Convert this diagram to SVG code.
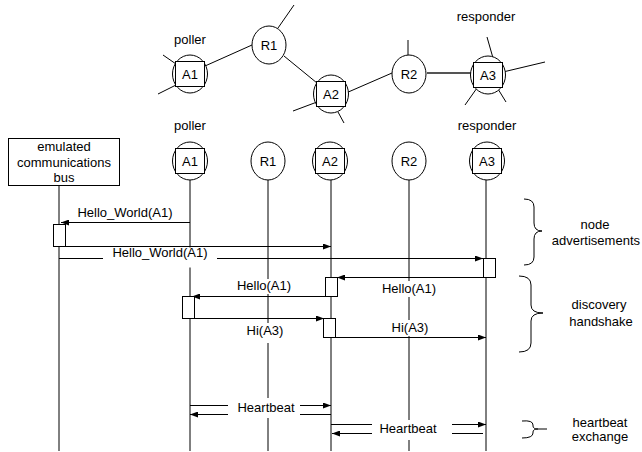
<svg xmlns="http://www.w3.org/2000/svg" width="642" height="452" viewBox="0 0 642 452">
<defs>
<marker id="ah" viewBox="0 0 8 6" refX="8" refY="3" markerWidth="8" markerHeight="6" markerUnits="userSpaceOnUse" orient="auto">
<path d="M0,0 L8,3 L0,6 Z" fill="#000"/>
</marker>
<style>
text{font-family:"Liberation Sans",Arial,sans-serif;font-size:13px;fill:#000;text-anchor:middle}
.n{fill:#fff;stroke:#000;stroke-width:1}
.l{stroke:#000;stroke-width:1;fill:none}
.a{stroke:#000;stroke-width:1;fill:none;marker-end:url(#ah)}
.bg{fill:#fff;stroke:none}
.act{fill:#fff;stroke:#000;stroke-width:1}
</style>
</defs>
<rect width="642" height="452" fill="#fff"/>

<!-- top network links -->
<g id="net-links">
<line class="l" x1="163" y1="55" x2="176" y2="64"/>
<line class="l" x1="158" y1="94" x2="176" y2="85"/>
<line class="l" x1="205" y1="66" x2="252" y2="45"/>
<line class="l" x1="278" y1="28" x2="294" y2="5"/>
<line class="l" x1="284" y1="56" x2="317" y2="83"/>
<line class="l" x1="293" y1="111" x2="317" y2="102"/>
<line class="l" x1="338" y1="112" x2="344" y2="123"/>
<line class="l" x1="346" y1="93" x2="392" y2="73"/>
<line class="l" x1="408" y1="40" x2="408" y2="55"/>
<line x1="427" y1="73" x2="472" y2="73" stroke="#555" stroke-width="2"/>
<line class="l" x1="487" y1="37" x2="493" y2="58"/>
<line class="l" x1="503" y1="72" x2="545" y2="62"/>
<line class="l" x1="465" y1="105" x2="477" y2="88"/>
<line class="l" x1="498" y1="89" x2="506" y2="102"/>
</g>

<g id="top-A1">
<ellipse class="n" cx="190" cy="74" rx="17.5" ry="19"/>
<rect class="n" x="175.5" y="61.5" width="29" height="25"/>
<text x="190" y="79">A1</text>
<text x="190" y="44">poller</text>
</g>
<g id="top-R1">
<ellipse class="n" cx="269" cy="45" rx="17" ry="19"/>
<text x="269" y="50">R1</text>
</g>
<g id="top-A2">
<ellipse class="n" cx="331" cy="94" rx="17.5" ry="19"/>
<rect class="n" x="316.5" y="81.5" width="29" height="25"/>
<text x="331" y="99">A2</text>
</g>
<g id="top-R2">
<ellipse class="n" cx="409" cy="74" rx="17" ry="19"/>
<text x="409" y="79">R2</text>
</g>
<g id="top-A3">
<ellipse class="n" cx="488" cy="75" rx="17.5" ry="19"/>
<rect class="n" x="473.5" y="62.5" width="29" height="25"/>
<text x="488" y="80">A3</text>
<text x="486" y="21">responder</text>
</g>

<!-- sequence connectors -->
<g id="connectors">
<line class="l" x1="59" y1="185" x2="59" y2="451"/>
<line class="l" x1="190" y1="180" x2="190" y2="451"/>
<line class="l" x1="268" y1="180" x2="268" y2="451"/>
<line class="l" x1="331" y1="180" x2="331" y2="451"/>
<line class="l" x1="409" y1="180" x2="409" y2="451"/>
<line class="l" x1="486" y1="180" x2="486" y2="451"/>

<line class="a" x1="190" y1="222.5" x2="61" y2="222.5"/>
<line class="a" x1="65" y1="246.5" x2="331" y2="246.5"/>
<line class="a" x1="59" y1="258.5" x2="483" y2="258.5"/>
<line class="a" x1="483" y1="277.5" x2="337" y2="277.5"/>
<line class="a" x1="325" y1="296.5" x2="192" y2="296.5"/>
<line class="a" x1="194" y1="318.5" x2="324" y2="318.5"/>
<line class="a" x1="336" y1="337.5" x2="486" y2="337.5"/>
<line class="a" x1="190" y1="405.5" x2="331" y2="405.5"/>
<line class="a" x1="331" y1="414.5" x2="190" y2="414.5"/>
<line class="a" x1="331" y1="424.5" x2="486" y2="424.5"/>
<line class="a" x1="483" y1="433.5" x2="332" y2="433.5"/>
</g>

<!-- activation boxes -->
<g id="activations">
<rect class="act" x="53.5" y="224.5" width="12" height="22"/>
<rect class="act" x="483.5" y="258.5" width="12" height="19"/>
<rect class="act" x="325.5" y="277.5" width="12" height="19"/>
<rect class="act" x="182.5" y="296.5" width="12" height="22"/>
<rect class="act" x="323.5" y="318.5" width="12" height="19"/>
</g>

<!-- message labels -->
<g id="labels">
<text x="125" y="217">Hello_World(A1)</text>
<rect class="bg" x="103" y="247.5" width="114" height="20"/>
<text x="160" y="257">Hello_World(A1)</text>
<rect class="bg" x="378" y="281" width="62" height="16"/>
<text x="409" y="293">Hello(A1)</text>
<rect class="bg" x="233" y="279" width="62" height="15"/>
<text x="264" y="290">Hello(A1)</text>
<rect class="bg" x="242" y="323" width="46" height="20"/>
<text x="265" y="335">Hi(A3)</text>
<rect class="bg" x="388" y="320" width="44" height="16"/>
<text x="410" y="332">Hi(A3)</text>
<rect class="bg" x="228" y="398" width="72" height="20"/>
<text x="266" y="412">Heartbeat</text>
<rect class="bg" x="372" y="420" width="80" height="20"/>
<text x="408" y="433">Heartbeat</text>
</g>

<g id="bus">
<rect class="n" x="8.5" y="138.5" width="111" height="47"/>
<text x="64" y="151">emulated</text>
<text x="64" y="167">communications</text>
<text x="64" y="182">bus</text>
</g>
<g id="seq-A1">
<ellipse class="n" cx="190" cy="161" rx="17.5" ry="19"/>
<rect class="n" x="175.5" y="148.5" width="29" height="25"/>
<text x="190" y="166">A1</text>
<text x="190" y="130">poller</text>
</g>
<g id="seq-R1">
<ellipse class="n" cx="268" cy="161" rx="17" ry="19"/>
<text x="268" y="166">R1</text>
</g>
<g id="seq-A2">
<ellipse class="n" cx="330" cy="161" rx="17.5" ry="19"/>
<rect class="n" x="315.5" y="148.5" width="29" height="25"/>
<text x="330" y="166">A2</text>
</g>
<g id="seq-R2">
<ellipse class="n" cx="409" cy="161" rx="17" ry="19"/>
<text x="409" y="166">R2</text>
</g>
<g id="seq-A3">
<ellipse class="n" cx="487" cy="161" rx="17.5" ry="19"/>
<rect class="n" x="472.5" y="148.5" width="29" height="25"/>
<text x="487" y="166">A3</text>
<text x="487" y="130">responder</text>
</g>

<g id="brace-node">
<path class="l" d="M524,199 Q534,199 534,207 L534,223 Q534,231 542,231 Q534,231 534,239 L534,257 Q534,265 524,265"/>
<text x="595" y="229">node</text>
<text x="640" y="245" style="text-anchor:end">advertisements</text>
</g>
<g id="brace-discovery">
<path class="l" d="M519,276 Q531,276 531,285 L531,305 Q531,313 543,313 Q531,313 531,321 L531,343 Q531,352 519,352"/>
<text x="599" y="309">discovery</text>
<text x="601" y="326">handshake</text>
</g>
<g id="brace-heartbeat">
<path class="l" d="M522,421 Q533,420 533,425 L533,426 Q533,429 538,429 L547,429 M538,429 Q533,429 533,432 L533,433 Q533,438 522,438"/>
<text x="600" y="427">heartbeat</text>
<text x="600" y="441">exchange</text>
</g>
</svg>
